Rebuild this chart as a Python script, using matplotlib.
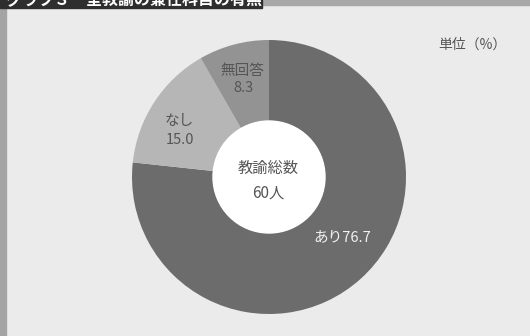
import matplotlib
matplotlib.use("Agg")
import matplotlib.pyplot as plt
from matplotlib.patches import Rectangle

plt.rcParams['font.family'] = ['Noto Sans CJK JP', 'DejaVu Sans']

categories = ["あり", "なし", "無回答"]
values = [76.7, 15.0, 8.3]
colors = ["#6c6c6c", "#b6b6b6", "#939393"]
title = "グラフ３　全教諭の兼任科目の有無"
center_text = ["教諭総数", "60人"]
unit_text = "単位（%）"

W, H = 530, 336
fig = plt.figure(figsize=(W / 100, H / 100), dpi=100)
fig.patch.set_facecolor("#ebebeb")
ax = fig.add_axes([0, 0, 1, 1])

cx, cy, R, r = 269, H - 177, 137, 56
ax.pie(values, colors=colors, startangle=90, counterclock=False,
       center=(cx, cy), radius=R, wedgeprops=dict(width=R - r, linewidth=0),
       frame=True)
ax.set_xlim(0, W)
ax.set_ylim(0, H)
ax.set_aspect("equal")
ax.axis("off")
ax.add_patch(plt.Circle((cx, cy), r, color="white", zorder=3))

# frame decorations
ax.add_patch(Rectangle((0, 0), 6, H, color="#a4a4a4", zorder=1))
ax.add_patch(Rectangle((262, H - 5), W - 262, 5, color="#a8a8a8", zorder=1))
bar = Rectangle((0, H - 8), 262, 8, color="#2e2e2e", zorder=2)
ax.add_patch(bar)
t = ax.text(6, H + 1, title, color="white", fontsize=11.5, fontweight="bold",
            ha="left", va="center", zorder=3)
t.set_clip_path(bar)

tc = "#555555"
ax.text(268, H - 168, center_text[0], fontsize=11, color=tc, ha="center", va="center", zorder=4)
ax.text(268, H - 193, center_text[1], fontsize=11, color=tc, ha="center", va="center", zorder=4)

ax.text(242, H - 71, categories[2], fontsize=10.5, color=tc, ha="center", va="center", zorder=4)
ax.text(243, H - 88, f"{values[2]:.1f}", fontsize=10.5, color=tc, ha="center", va="center", zorder=4)
ax.text(179, H - 121, categories[1], fontsize=10.5, color=tc, ha="center", va="center", zorder=4)
ax.text(180, H - 140, f"{values[1]:.1f}", fontsize=10.5, color=tc, ha="center", va="center", zorder=4)
ax.text(342, H - 237, f"{categories[0]}{values[0]:.1f}", fontsize=10.5, color="#f2f2f2",
        ha="center", va="center", zorder=4)

ax.text(472, H - 45, unit_text, fontsize=10, color=tc, ha="center", va="center", zorder=4)

fig.savefig("out.png", dpi=100, facecolor=fig.get_facecolor())
